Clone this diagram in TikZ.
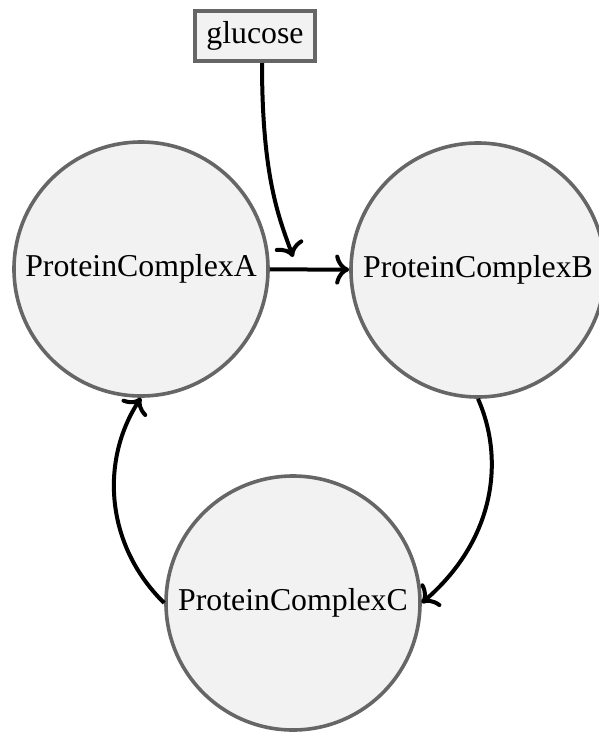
\documentclass[tikz,border=0pt]{standalone}
\usepackage{fontspec}
\setmainfont{Liberation Serif}
\usetikzlibrary{arrows.meta}
\definecolor{nodefill}{HTML}{F2F2F2}
\definecolor{nodeline}{HTML}{666666}
\begin{document}
\begin{tikzpicture}[x=1pt,y=-1pt,
  complexnode/.style={circle,draw=nodeline,fill=nodefill,line width=3.6pt,minimum size=254pt,inner sep=0pt,font=\fontsize{31.8}{36}\selectfont},
  molbox/.style={rectangle,draw=nodeline,fill=nodefill,line width=4pt,minimum width=120pt,minimum height=50pt,inner sep=0pt,font=\fontsize{31.8}{36}\selectfont},
  flow/.style={line width=4pt,-{Computer Modern Rightarrow[length=14pt,width=30pt,line width=4pt]}}]
\useasboundingbox (0,0) rectangle (598,734);
\node[complexnode] (A) at (141,269) {ProteinComplexA};
\node[complexnode] (B) at (478,270) {ProteinComplexB};
\node[complexnode] (C) at (293,603) {ProteinComplexC};
\node[molbox] (G) at (255,36) {glucose};
\coordinate (GT) at (293,257);
\draw[flow] (A) -- (B);
\draw[flow] ([xshift=7pt]G.south) .. controls (262,180) and (280,220) .. (GT);
\draw[flow] (B.south) .. controls (505,460) and (495,540) .. (C.east);
\draw[flow] (C.west) .. controls (105,545) and (100,460) .. (A.south);
\end{tikzpicture}
\end{document}
